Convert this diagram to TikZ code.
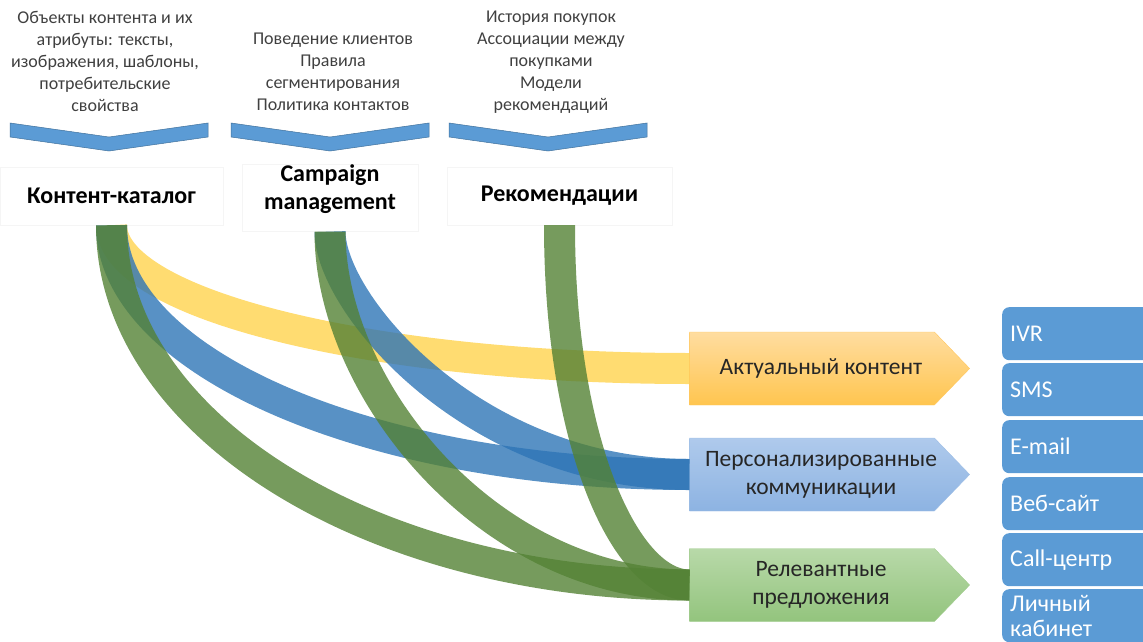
\documentclass[tikz,border=0pt]{standalone}
\usepackage{fontspec}
\setmainfont{Carlito}
\usetikzlibrary{shapes.symbols}
\definecolor{chevblue}{HTML}{5B9BD5}
\definecolor{chevedge}{HTML}{41719C}
\definecolor{notegray}{HTML}{404040}
\definecolor{bandyellow}{HTML}{FFD34D}
\definecolor{bandblue}{HTML}{2E75B6}
\definecolor{bandgreen}{HTML}{548235}
\definecolor{acttop}{HTML}{FFDDA0}
\definecolor{actbot}{HTML}{FFC54F}
\definecolor{actedge}{HTML}{FFC75E}
\definecolor{perstop}{HTML}{AFCAEC}
\definecolor{persbot}{HTML}{8DB3E2}
\definecolor{persedge}{HTML}{9DBEE6}
\definecolor{reltop}{HTML}{B8D9A9}
\definecolor{relbot}{HTML}{93C47D}
\definecolor{reledge}{HTML}{A3CD90}
\begin{document}
\begin{tikzpicture}[x=1pt,y=-1pt,
  notetext/.style={align=center,anchor=north,inner sep=0pt,text=notegray,font=\fontsize{18}{22}\selectfont},
  srcbox/.style={draw=black!4,fill=white,align=center,inner sep=0pt,font=\fontsize{24}{28}\selectfont\bfseries},
  chev/.style={fill=chevblue,draw=chevedge,line width=0.5pt},
  band/.style={line width=31pt,draw opacity=0.8},
  goalbox/.style={signal,signal to=east,signal pointer angle=92,minimum width=280pt,minimum height=73pt,inner sep=0pt},
  goaltext/.style={align=center,inner sep=0pt,text=black!85,font=\fontsize{23.5}{28}\selectfont},
  chanbox/.style={fill=chevblue,rounded corners=7pt,anchor=north west,text width=140pt,inner xsep=8pt,
    inner ysep=2pt,minimum height=53pt,align=left,text=white,font=\fontsize{24}{25}\selectfont}]
\useasboundingbox (0,0) rectangle (1143,642);
\clip (0,0) rectangle (1143,642);
% top notes
\node[notetext] (n1) at (105,11) {Объекты контента и их\\атрибуты: тексты,\\изображения, шаблоны,\\потребительские\\свойства};
\node[notetext] (n2) at (333,33) {Поведение клиентов\\Правила\\сегментирования\\Политика контактов};
\node[notetext] (n3) at (551,11) {История покупок\\Ассоциации между\\покупками\\Модели\\рекомендаций};
% chevrons
\foreach \cx in {109,330,548}
  \draw[chev] (\cx-99,123) -- (\cx,137) -- (\cx+99,123) -- (\cx+99,137) -- (\cx,151) -- (\cx-99,137) -- cycle;
% sources
\node[srcbox,minimum width=223pt,minimum height=58pt] (cat) at (111.5,196) {Контент-каталог};
\node[srcbox,minimum width=176pt,minimum height=60pt,text depth=22pt] (cmp) at (330,198) {Campaign\\management};
\node[srcbox,minimum width=225pt,minimum height=58pt] (rec) at (559.5,196) {Рекомендации};
% results
\node[goalbox,draw=actedge,top color=acttop,bottom color=actbot] (act) at (812,368.5) {};
\node[goalbox,draw=persedge,top color=perstop,bottom color=persbot] (pers) at (812,474.5) {};
\node[goalbox,draw=reledge,top color=reltop,bottom color=relbot] (rel) at (812,585) {};
\node[goaltext] (act-t) at ([xshift=9pt]act.center) {Актуальный контент};
\node[goaltext] (pers-t) at ([xshift=9pt]pers.center) {Персонализированные\\коммуникации};
\node[goaltext] (rel-t) at ([xshift=9pt]rel.center) {Релевантные\\предложения};
% channels
\foreach \name/\top/\txt in {ivr/307/IVR, sms/363/SMS, mail/420/E-mail, web/477/Веб-сайт, call/533/Call-центр, cab/589/{Личный\\кабинет}}
  \node[chanbox] (\name) at (1002,\top) {\txt};
% bands
\draw[band,bandyellow] (cat.south) .. controls +(0,79) and +(-319,0) .. (act.west);
\draw[band,bandblue] (cat.south) .. controls +(0,137) and +(-319,0) .. (pers.west);
\draw[band,bandblue] (cmp.south) .. controls +(0,72) and +(-216,0) .. (pers.west);
\draw[band,bandgreen] (cat.south) .. controls +(0,199) and +(-319,0) .. (rel.west);
\draw[band,bandgreen] (cmp.south) .. controls +(0,160) and +(-199,0) .. (rel.west);
\draw[band,bandgreen] (rec.south) .. controls +(0,215) and +(-65,0) .. (rel.west);
\end{tikzpicture}
\end{document}
